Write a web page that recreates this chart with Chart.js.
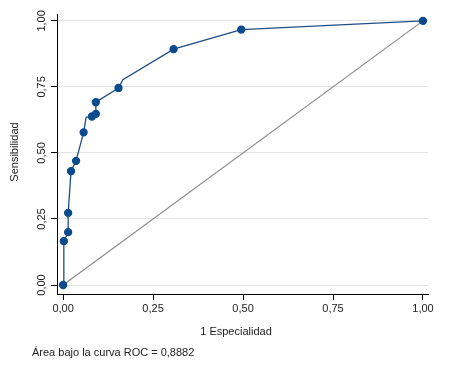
<!DOCTYPE html>
<html lang="es">
<head>
  <meta charset="UTF-8">
  <title>Curva ROC</title>
  <script src="https://cdn.jsdelivr.net/npm/chart.js"></script>
  <style>
    body { margin: 0; background: #fff; }
  </style>
</head>
<body>
  <canvas id="rocChart" width="449" height="367"></canvas>

  <script>
    // Curva ROC (1 - especificidad, sensibilidad); marcado = 0 es un vértice sin punto
    const rocX = [0, 0.002, 0.014, 0.014, 0.022, 0.036, 0.057, 0.064, 0.080, 0.091, 0.091, 0.154, 0.166, 0.307, 0.495, 1];
    const rocY = [0, 0.166, 0.200, 0.273, 0.431, 0.470, 0.578, 0.635, 0.638, 0.648, 0.692, 0.746, 0.777, 0.893, 0.967, 1];
    const marcado = [1, 1, 1, 1, 1, 1, 1, 0, 1, 1, 1, 1, 0, 1, 1, 1];

    // Línea de referencia
    const refX = [0, 1];
    const refY = [0, 1];

    const tickValues = [0, 0.25, 0.5, 0.75, 1];
    const tickLabels = ['0,00', '0,25', '0,50', '0,75', '1,00'];

    const tituloX = '1 Especialidad';
    const tituloY = 'Sensibilidad';
    const nota = 'Área bajo la curva ROC = 0,8882';

    const textColor = '#222';
    const font = '11px "Liberation Sans", Arial, sans-serif';

    const toPoints = (xs, ys) => xs.map((x, i) => ({ x: x, y: ys[i] }));
    const setTicks = scale => { scale.ticks = tickValues.map(v => ({ value: v })); };

    // Etiquetas giradas del eje Y, títulos y nota
    const textPlugin = {
      id: 'textPlugin',
      afterDraw(chart) {
        const ctx = chart.ctx;
        const yScale = chart.scales.y;
        ctx.save();
        ctx.fillStyle = textColor;
        ctx.font = font;
        ctx.textAlign = 'center';
        ctx.textBaseline = 'middle';
        tickValues.forEach((v, i) => {
          ctx.save();
          ctx.translate(41.5, yScale.getPixelForValue(v));
          ctx.rotate(-Math.PI / 2);
          ctx.fillText(tickLabels[i], 0, 0);
          ctx.restore();
        });
        ctx.save();
        ctx.translate(15, 152);
        ctx.rotate(-Math.PI / 2);
        ctx.fillText(tituloY, 0, 0);
        ctx.restore();
        ctx.fillText(tituloX, 236, 332);
        ctx.textAlign = 'left';
        ctx.fillText(nota, 32, 353);
        ctx.restore();
      }
    };

    const ctxRoc = document.getElementById('rocChart').getContext('2d');

    new Chart(ctxRoc, {
      type: 'line',
      data: {
        datasets: [{
          label: 'Curva ROC',
          data: toPoints(rocX, rocY),
          borderColor: '#1f4e86',
          borderWidth: 1.3,
          backgroundColor: '#0b4a8c',
          pointBackgroundColor: '#0b4a8c',
          pointBorderColor: '#0b4a8c',
          pointRadius: ctx => marcado[ctx.dataIndex] ? 3.5 : 0,
          tension: 0,
          fill: false,
          clip: false
        }, {
          label: 'Referencia',
          data: toPoints(refX, refY),
          borderColor: '#8a8a8a',
          borderWidth: 1.2,
          pointRadius: 0,
          tension: 0,
          fill: false,
          clip: false
        }]
      },
      options: {
        responsive: false,
        animation: false,
        layout: { padding: { left: 0, top: 14, right: 21, bottom: 0 } },
        plugins: {
          legend: { display: false },
          tooltip: { enabled: false }
        },
        scales: {
          x: {
            type: 'linear',
            min: -0.017,
            max: 1.014,
            afterBuildTicks: setTicks,
            afterFit: scale => { scale.height = 73; },
            grid: { drawOnChartArea: false, tickLength: 6, tickColor: '#000' },
            border: { color: '#000', width: 1 },
            ticks: {
              padding: 2,
              color: textColor,
              font: { family: '"Liberation Sans", Arial, sans-serif', size: 11 },
              maxRotation: 0,
              callback: v => tickLabels[tickValues.indexOf(v)]
            }
          },
          y: {
            type: 'linear',
            min: -0.034,
            max: 1.026,
            afterBuildTicks: setTicks,
            afterFit: scale => { scale.width = 57; },
            grid: { color: '#e3e3e3', tickLength: 6, tickColor: '#000' },
            border: { color: '#000', width: 1 },
            ticks: { callback: () => '' }
          }
        }
      },
      plugins: [textPlugin]
    });
  </script>
</body>
</html>
